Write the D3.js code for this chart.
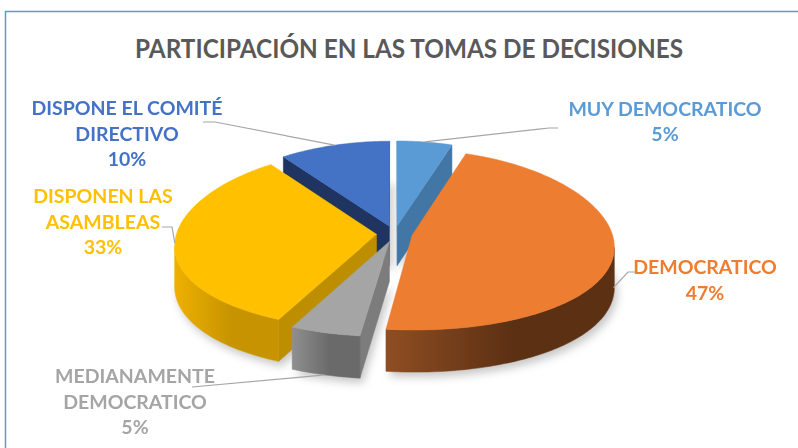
<!DOCTYPE html>
<html>
<head>
<meta charset="utf-8">
<script src="https://cdn.jsdelivr.net/npm/d3@7"></script>
<style>
  body { margin: 0; background: #fff; }
  svg { display: block; }
  text { font-family: Lato, "Open Sans", sans-serif; font-weight: 700; }
</style>
</head>
<body>
<div id="chart"></div>
<script>
// data
var categories = ["MUY DEMOCRATICO", "DEMOCRATICO", "MEDIANAMENTE DEMOCRATICO", "DISPONEN LAS ASAMBLEAS", "DISPONE EL COMITÉ DIRECTIVO"];
var values = [5, 47, 5, 33, 10];
var labelLines = [["MUY DEMOCRATICO"], ["DEMOCRATICO"], ["MEDIANAMENTE", "DEMOCRATICO"], ["DISPONEN LAS", "ASAMBLEAS"], ["DISPONE EL COMITÉ", "DIRECTIVO"]];
var titleText = "PARTICIPACIÓN EN LAS TOMAS DE DECISIONES";

// colours (Office theme)
var topColors = ["#5B9BD5", "#ED7D31", "#A5A5A5", "#FFC000", "#4472C4"];
var sideLight = ["#4f86b8", "#8f4e22", "#8f8f8f", "#eeb000", "#3a63aa"];
var sideDark = ["#3f6d96", "#5c3013", "#6a6a6a", "#c79400", "#2c4d88"];
var cutColors = ["#4276a4", "#9a5424", "#7c7c7c", "#bd8f00", "#1f3460"];

var width = 798, height = 448;

var svg = d3.select("#chart").append("svg")
  .attr("width", width)
  .attr("height", height);

var defs = svg.append("defs");
defs.append("filter").attr("id", "blur")
  .attr("x", "-20%").attr("y", "-20%").attr("width", "140%").attr("height", "140%")
  .append("feGaussianBlur").attr("stdDeviation", 4);

// chart area border
svg.append("rect")
  .attr("x", 5.5).attr("y", 11.5)
  .attr("width", 900).attr("height", 600)
  .attr("fill", "none")
  .attr("stroke", "#5B9BD5")
  .attr("stroke-width", 1.5);

// title
var title = svg.append("text")
  .attr("x", 409)
  .attr("y", 58)
  .attr("text-anchor", "middle")
  .style("font-size", "27.5px")
  .style("fill", "#595959")
  .text(titleText);
var tw = title.node().getComputedTextLength();
if (Math.abs(tw - 548) > 4) title.attr("textLength", 548).attr("lengthAdjust", "spacingAndGlyphs");

// 3d projection of the pie
var cx = 394.5, cy = 233.6, rx = 200, ry = 89.7, thick = 40;
var px = 0.12, py = 0.05, explode = 0.09;
var camZ = 1 / px;

function project(X, Z, t) {
  var wx = 1 - px * Z, wy = 1 - py * Z;
  return [cx + rx * X / wx, cy + (ry * Z + thick * t) / wy];
}

var arcs = d3.pie().sort(null).value(function(d) { return d; })(values);
var line = d3.line().curve(d3.curveLinearClosed);
var step = Math.PI / 180;

var slices = arcs.map(function(d, i) {
  var m = (d.startAngle + d.endAngle) / 2;
  return {
    i: i, a: d.startAngle, b: d.endAngle, m: m,
    ex: explode * Math.sin(m), ez: -explode * Math.cos(m)
  };
});

function pt(s, ang, t, r) {
  if (r === undefined) r = 1;
  return project(s.ex + r * Math.sin(ang), s.ez - r * Math.cos(ang), t);
}

function angles(a, b) {
  var n = Math.max(2, Math.ceil((b - a) / step));
  return d3.range(n + 1).map(function(k) { return a + (b - a) * k / n; });
}

// outer wall faces the camera?
function wallVisible(s, ang) {
  var Px = s.ex + Math.sin(ang), Pz = s.ez - Math.cos(ang);
  return Math.sin(ang) * (0 - Px) + (-Math.cos(ang)) * (camZ - Pz) > 0;
}

var faces = [];
slices.forEach(function(s) {
  // outer wall
  var vis = angles(s.a, s.b).filter(function(ang) { return wallVisible(s, ang); });
  if (vis.length > 1) {
    var top = vis.map(function(ang) { return pt(s, ang, 0); });
    var bot = vis.map(function(ang) { return pt(s, ang, 1); }).reverse();
    var zc = d3.mean(vis, function(ang) { return s.ez - Math.cos(ang); });
    faces.push({ kind: "wall", s: s, pts: top.concat(bot), z: zc });
  }
  // cut faces at both radii
  [[s.a, -1], [s.b, 1]].forEach(function(e) {
    var ang = e[0], sign = e[1];
    var nx = sign * Math.cos(ang), nz = sign * Math.sin(ang);
    var Px = s.ex + 0.5 * Math.sin(ang), Pz = s.ez - 0.5 * Math.cos(ang);
    if (nx * (0 - Px) + nz * (camZ - Pz) > 0) {
      faces.push({
        kind: "cut", s: s, z: Pz,
        pts: [pt(s, ang, 0, 0), pt(s, ang, 0), pt(s, ang, 1), pt(s, ang, 1, 0)]
      });
    }
  });
});
faces.sort(function(p, q) { return p.z - q.z; });

var pie = svg.append("g").attr("class", "pie");

// soft shadow under the pie
pie.append("g")
  .attr("filter", "url(#blur)")
  .attr("transform", "translate(3,5)")
  .selectAll("path")
  .data(slices)
  .enter()
  .append("path")
  .attr("d", function(s) {
    return line([pt(s, 0, 1, 0)].concat(angles(s.a, s.b).map(function(ang) { return pt(s, ang, 1); })));
  })
  .attr("fill", "#000")
  .attr("opacity", 0.22);

// gradients for the walls
faces.filter(function(f) { return f.kind === "wall"; }).forEach(function(f, k) {
  var xs = f.pts.map(function(p) { return p[0]; });
  var g = defs.append("linearGradient")
    .attr("id", "wall" + f.s.i)
    .attr("gradientUnits", "userSpaceOnUse")
    .attr("x1", d3.min(xs)).attr("x2", d3.max(xs))
    .attr("y1", 0).attr("y2", 0);
  g.append("stop").attr("offset", "0%").attr("stop-color", sideLight[f.s.i]);
  g.append("stop").attr("offset", "55%").attr("stop-color", sideDark[f.s.i]);
  g.append("stop").attr("offset", "100%").attr("stop-color", sideDark[f.s.i]);
});

pie.selectAll(".face")
  .data(faces)
  .enter()
  .append("path")
  .attr("class", "face")
  .attr("d", function(f) { return line(f.pts); })
  .attr("fill", function(f) { return f.kind === "wall" ? "url(#wall" + f.s.i + ")" : cutColors[f.s.i]; })
  .attr("stroke", function(f) { return f.kind === "wall" ? "url(#wall" + f.s.i + ")" : cutColors[f.s.i]; })
  .attr("stroke-width", 0.5);

// top faces, back to front
var tops = slices.slice().sort(function(p, q) { return (-Math.cos(p.m)) - (-Math.cos(q.m)); });
pie.selectAll(".top")
  .data(tops)
  .enter()
  .append("path")
  .attr("class", "top")
  .attr("d", function(s) {
    return line([pt(s, 0, 0, 0)].concat(angles(s.a, s.b).map(function(ang) { return pt(s, ang, 0); })));
  })
  .attr("fill", function(s) { return topColors[s.i]; })
  .attr("stroke", function(s) { return topColors[s.i]; })
  .attr("stroke-width", 0.5);

// data labels with leader lines
var labelLayout = [
  { x: 665, y: 115.5, t: 0, elbow: [549, 128], end: [558, 128] },
  { x: 705, y: 274, t: 0.8, elbow: [628, 272], end: [636, 272] },
  { x: 135, y: 383, t: 1, elbow: [192, 387], end: [192, 387] },
  { x: 103, y: 203, t: 0, elbow: [172, 227], end: [162, 227] },
  { x: 127, y: 115, t: 0, elbow: [215, 122], end: [203, 122] }
];
var lineGap = 25.5;

var labels = svg.append("g").attr("class", "labels");
slices.forEach(function(s) {
  var L = labelLayout[s.i];
  var start = pt(s, s.m, L.t);
  labels.append("path")
    .attr("d", d3.line()([start, L.elbow, L.end]))
    .attr("fill", "none")
    .attr("stroke", "#A6A6A6")
    .attr("stroke-width", 1.2);

  var lines = labelLines[s.i].concat([values[s.i] + "%"]);
  var txt = labels.append("text")
    .attr("text-anchor", "middle")
    .style("font-size", "19.5px")
    .style("fill", topColors[s.i]);
  lines.forEach(function(l, k) {
    txt.append("tspan")
      .attr("x", L.x)
      .attr("y", L.y + k * lineGap)
      .text(l);
  });
});
</script>
</body>
</html>
